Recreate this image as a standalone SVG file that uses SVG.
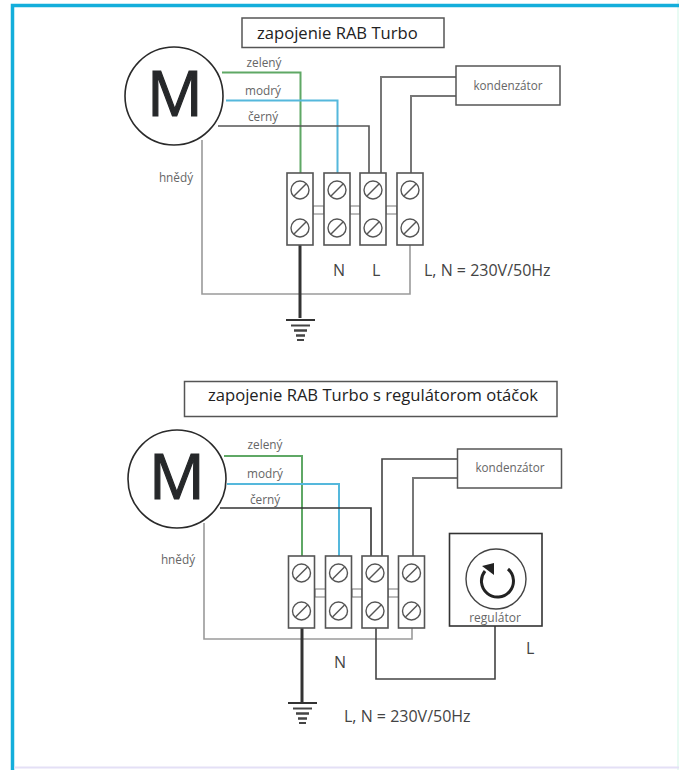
<svg xmlns="http://www.w3.org/2000/svg" xmlns:xlink="http://www.w3.org/1999/xlink" width="679" height="770" viewBox="0 0 679 770">
<style>
text{font-family:"Open Sans","Noto Sans","Liberation Sans",sans-serif;fill:#2a2a2a}
.box{fill:#fff;stroke:#555;stroke-width:1.5}
.motor{fill:#fff;stroke:#2a2a2a;stroke-width:1.6}
.m{font-size:62px;text-anchor:middle;fill:#26282a;stroke:#26282a;stroke-width:1.2}
.title{font-size:16.600px;fill:#222}
.small{font-size:11.800px;fill:#666;text-anchor:middle}
.kond{font-size:11.700px;fill:#666;text-anchor:middle}
.mid{font-size:16px;fill:#444}
.w{fill:none;stroke-width:1.6}
.green{stroke:#5fa865;stroke-width:2}
.blue{stroke:#55b8dc;stroke-width:2}
.black{stroke:#555}
.grey{stroke:#9a9a9a}
.cap{stroke:#777;stroke-width:2}
.earth{fill:none;stroke:#333;stroke-width:3}
.t{fill:#fff;stroke:#555;stroke-width:1.6}
.s{fill:none;stroke:#555;stroke-width:1.4}
.j{fill:#fff;stroke:#777;stroke-width:1}
</style>
<defs>
<g id="term">
<rect class="t" x="0" y="0" width="26" height="72"/>
<circle class="s" cx="13" cy="17" r="9"/><path class="s" d="M7 23L19 11"/>
<circle class="s" cx="13" cy="55" r="9"/><path class="s" d="M7 61L19 49"/>
</g>
<g id="earth">
<path d="M-14 0H15" stroke="#333" stroke-width="2"/>
<path d="M-9 5.500H10" stroke="#444" stroke-width="2"/>
<path d="M-6 10.500H7" stroke="#444" stroke-width="2.500"/>
<path d="M-4 15.500H5" stroke="#444" stroke-width="2.500"/>
<path d="M-3 20H4" stroke="#444" stroke-width="2"/>
</g>
</defs>
<rect width="679" height="770" fill="#fff"/>
<rect x="677" y="0" width="2" height="770" fill="#e8fbf3"/>
<path d="M12.500 770V5.500H679" fill="none" stroke="#14aedb" stroke-width="3.500"/>
<path d="M14 767.500H679" fill="none" stroke="#e4e0f6" stroke-width="2"/>

<g id="connectors">
<path class="w green" d="M222 72.500H300.500V173"/>
<path class="w blue" d="M226 100.500H337.500V173"/>
<path class="w black" d="M218 126H369V173"/>
<path class="w cap" d="M381 173V77H456"/>
<path class="w cap" d="M411 173V96H456"/>
<path class="w grey" d="M202 140V294H410V245"/>
<path class="earth" d="M300 245V318"/>
<path class="w green" d="M224 456H302V556"/>
<path class="w blue" d="M227 484H339V556"/>
<path class="w black" style="stroke:#333" d="M220 508H371V556"/>
<path class="w" stroke="#444" stroke-width="2" d="M382 556V459H457"/>
<path class="w cap" d="M413 556V478H457"/>
<path class="w grey" d="M204 523V639H412V628"/>
<path class="w" stroke="#444" d="M376 628V679H495V626"/>
<path class="earth" d="M302 628V703"/>
</g>

<g id="title-1"><rect class="box" x="242" y="18" width="202" height="29.500"/><text class="title" x="257" y="39">zapojenie RAB Turbo</text></g>
<g id="motor-1"><circle class="motor" cx="174" cy="96" r="49"/><text class="m" x="175" y="116">M</text></g>
<g id="labels-1">
<text class="small" x="264" y="67">zelený</text>
<text class="small" x="263" y="95">modrý</text>
<text class="small" x="263" y="121">černý</text>
<text class="small" x="176" y="182">hnědý</text>
<text class="mid" x="333" y="276">N</text>
<text class="mid" x="372" y="276">L</text>
<text class="mid" x="424" y="276">L, N = 230V/50Hz</text>
</g>
<g id="capacitor-1"><rect class="box" x="456" y="66" width="104" height="39"/><text class="kond" x="508" y="90">kondenzátor</text></g>
<g id="terminals-1">
<rect class="j" x="313" y="206" width="11" height="8"/><rect class="j" x="386" y="206" width="11" height="8"/><rect class="j" x="350" y="206" width="10" height="8"/>
<use xlink:href="#term" href="#term" x="287" y="173"/>
<use xlink:href="#term" href="#term" x="324" y="173"/>
<use xlink:href="#term" href="#term" x="360" y="173"/>
<use xlink:href="#term" href="#term" x="397" y="173"/>
</g>
<g id="ground-1"><use xlink:href="#earth" href="#earth" x="300" y="320"/></g>

<g id="title-2"><rect class="box" x="184.500" y="381.500" width="372.500" height="35"/><text class="title" x="208" y="401">zapojenie RAB Turbo s regulátorom otáčok</text></g>
<g id="motor-2"><circle class="motor" cx="177" cy="479" r="49"/><text class="m" x="177" y="499">M</text></g>
<g id="labels-2">
<text class="small" x="265" y="449">zelený</text>
<text class="small" x="265" y="478">modrý</text>
<text class="small" x="265" y="504">černý</text>
<text class="small" x="178" y="564">hnědý</text>
<text class="mid" x="334" y="668">N</text>
<text class="mid" x="526" y="654">L</text>
<text class="mid" x="344" y="722">L, N = 230V/50Hz</text>
</g>
<g id="capacitor-2"><rect class="box" x="457.500" y="449" width="104" height="39"/><text class="kond" x="510" y="472">kondenzátor</text></g>
<g id="regulator">
<rect x="449.500" y="533.500" width="92.500" height="92.500" fill="#fff" stroke="#333" stroke-width="1.600"/>
<circle cx="496" cy="579" r="30" fill="none" stroke="#444" stroke-width="1.400"/>
<path d="M508 569A16 16 0 1 1 485 571" fill="none" stroke="#222" stroke-width="3"/>
<path d="M482 566L494 563L494 575Z" fill="#222"/>
<text class="kond" x="495" y="622" style="font-size:12px">regulátor</text>
</g>
<g id="terminals-2">
<rect class="j" x="315" y="589" width="11" height="8"/><rect class="j" x="352" y="589" width="10" height="8"/><rect class="j" x="388" y="589" width="11" height="8"/>
<use xlink:href="#term" href="#term" x="288.500" y="556"/>
<use xlink:href="#term" href="#term" x="325.500" y="556"/>
<use xlink:href="#term" href="#term" x="362" y="556"/>
<use xlink:href="#term" href="#term" x="398.500" y="556"/>
</g>
<g id="ground-2"><use xlink:href="#earth" href="#earth" x="302" y="703"/></g>
</svg>
